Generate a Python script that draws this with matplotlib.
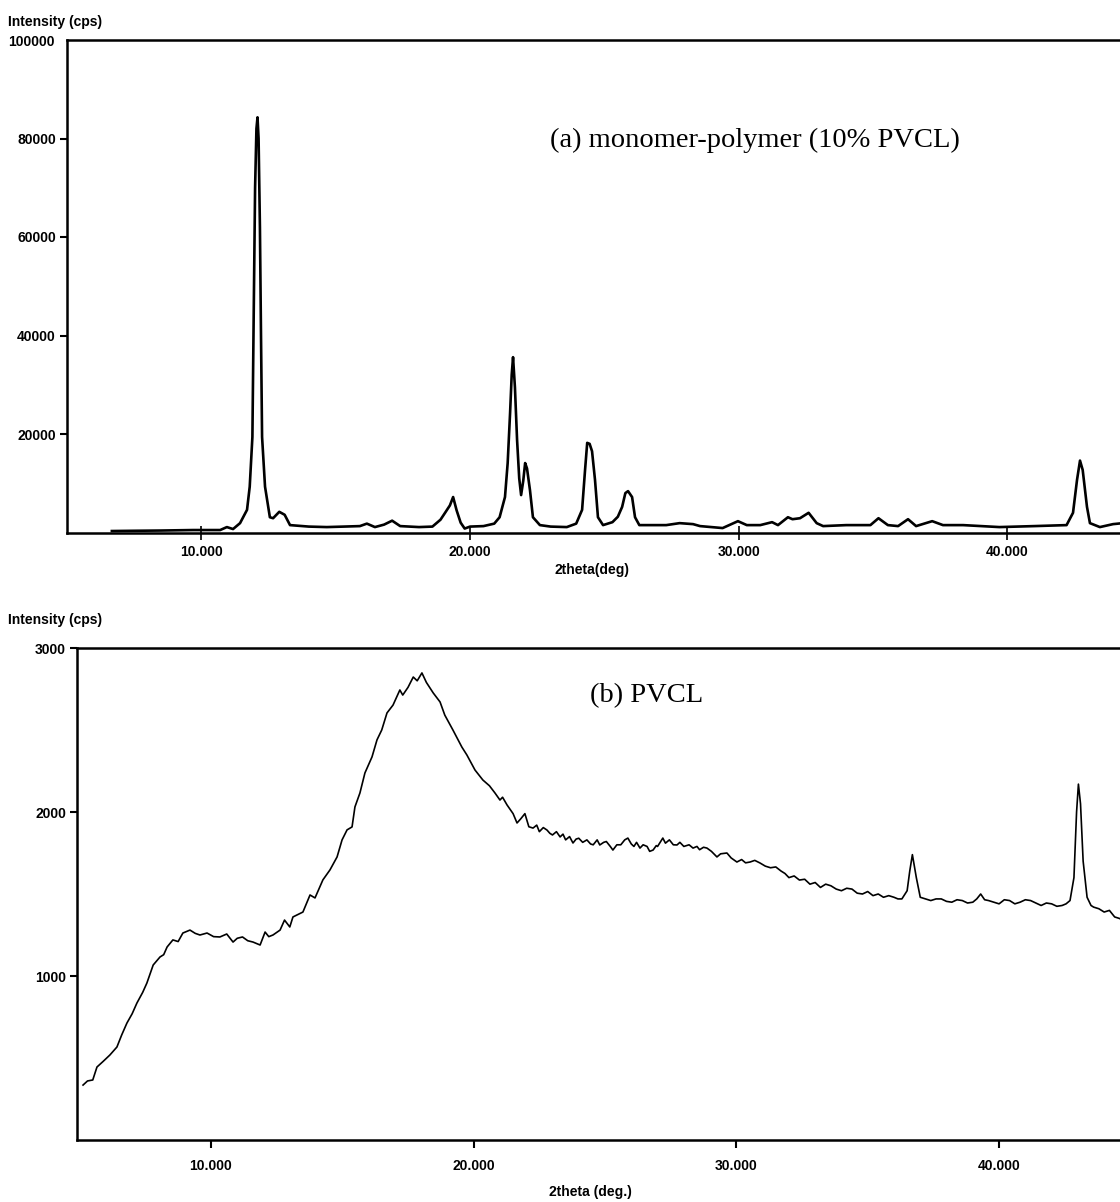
import matplotlib
matplotlib.use("Agg")
import matplotlib.pyplot as plt

# ---- (a) monomer-polymer (10% PVCL) ----
top_theta = [6.67, 7.5, 8.5, 9.7, 10.7, 10.95, 11.18, 11.44, 11.7, 11.8, 11.9, 11.95, 12.0, 12.05,
             12.09, 12.13, 12.18, 12.22, 12.26, 12.37, 12.55, 12.67, 12.9, 13.1, 13.3, 14.0, 14.67,
             15.3, 15.9, 16.16, 16.46, 16.8, 17.1, 17.4, 18.1, 18.6, 18.9, 19.07, 19.25, 19.37, 19.5,
             19.65, 19.8, 20.0, 20.5, 20.9, 21.1, 21.3, 21.4, 21.49, 21.55, 21.6, 21.67, 21.75, 21.83,
             21.9, 21.98, 22.05, 22.12, 22.23, 22.34, 22.6, 23.0, 23.6, 23.95, 24.17, 24.28, 24.36,
             24.45, 24.54, 24.65, 24.76, 24.95, 25.3, 25.5, 25.66, 25.78, 25.88, 26.03, 26.14, 26.3,
             27.3, 27.8, 28.3, 28.56, 29.4, 29.97, 30.3, 30.8, 31.24, 31.46, 31.83, 32.0, 32.28, 32.6,
             32.9, 33.14, 34.0, 34.9, 35.2, 35.55, 35.93, 36.3, 36.6, 37.2, 37.6, 38.35, 39.7, 41.0,
             42.2, 42.44, 42.59, 42.7, 42.8, 42.96, 43.07, 43.44, 43.93, 44.3]
top_counts = [300, 350, 400, 500, 500, 1100, 700, 1900, 4600, 9300, 19400, 45000, 70000, 82000,
              84300, 80000, 62000, 40000, 19400, 9300, 3100, 2900, 4200, 3600, 1500, 1200, 1100,
              1200, 1300, 1800, 1100, 1600, 2400, 1300, 1100, 1200, 2600, 4000, 5500, 7200, 4500,
              2000, 800, 1200, 1300, 1800, 3100, 7200, 14100, 24300, 32000, 35600, 29500, 18800, 11000,
              7600, 10500, 14100, 13000, 8600, 3100, 1500, 1200, 1100, 1800, 4600, 12700, 18200,
              18000, 16500, 10700, 3100, 1500, 2100, 3200, 5200, 8000, 8400, 7200, 3100, 1500,
              1500, 1900, 1700, 1300, 900, 2300, 1500, 1500, 2100, 1500, 3100, 2700, 2900, 4000,
              1900, 1300, 1500, 1500, 2900, 1500, 1300, 2700, 1300, 2300, 1500, 1500, 1100, 1300,
              1500, 4000, 10700, 14600, 12700, 5200, 1900, 1100, 1700, 1900]

# ---- (b) PVCL ----
bot_theta = [5.13, 5.3, 5.5, 5.66, 5.9, 6.15, 6.42, 6.6, 6.8, 7.0, 7.18, 7.4, 7.56, 7.8, 8.06, 8.2,
             8.33, 8.55, 8.75, 8.93, 9.2, 9.4, 9.58, 9.85, 10.1, 10.34, 10.6, 10.84, 11.0, 11.2, 11.4,
             11.6, 11.87, 12.06, 12.2, 12.36, 12.63, 12.8, 13.0, 13.12, 13.5, 13.77, 13.96, 14.26,
             14.53, 14.8, 14.99, 15.18, 15.37, 15.48, 15.67, 15.86, 16.13, 16.32, 16.5, 16.7, 16.93,
             17.19, 17.3, 17.5, 17.7, 17.85, 18.03, 18.2, 18.46, 18.72, 18.9, 19.21, 19.55, 19.74,
             20.05, 20.35, 20.6, 20.81, 21.0, 21.1, 21.27, 21.5, 21.65, 21.8, 21.95, 22.1, 22.26, 22.4,
             22.5, 22.65, 22.79, 22.9, 23.0, 23.15, 23.29, 23.4, 23.5, 23.65, 23.78, 23.9, 24.0, 24.15,
             24.31, 24.45, 24.55, 24.7, 24.8, 24.95, 25.05, 25.2, 25.3, 25.45, 25.6, 25.75, 25.87,
             26.0, 26.1, 26.2, 26.33, 26.45, 26.6, 26.7, 26.83, 26.95, 27.0, 27.2, 27.3, 27.45,
             27.6, 27.74, 27.85, 28.0, 28.2, 28.35, 28.5, 28.6, 28.75, 28.88, 29.05, 29.26, 29.4,
             29.64, 29.8, 30.02, 30.2, 30.35, 30.52, 30.7, 30.9, 31.1, 31.3, 31.5, 31.7, 31.85, 32.0,
             32.2, 32.4, 32.6, 32.8, 33.0, 33.2, 33.4, 33.6, 33.8, 34.0, 34.2, 34.4, 34.6, 34.8,
             35.0, 35.2, 35.4, 35.6, 35.8, 36.0, 36.15, 36.3, 36.5, 36.6, 36.7, 36.85, 37.0, 37.2,
             37.4, 37.6, 37.8, 38.0, 38.2, 38.4, 38.6, 38.8, 39.0, 39.15, 39.3, 39.45, 39.6, 39.8,
             40.0, 40.2, 40.4, 40.6, 40.8, 41.0, 41.2, 41.4, 41.6, 41.8, 42.0, 42.2, 42.4, 42.55,
             42.7, 42.85, 42.95, 43.02, 43.1, 43.2, 43.35, 43.5, 43.6, 43.8, 44.0, 44.2, 44.4, 44.6,
             44.8]
bot_counts = [335, 360, 366, 445, 480, 518, 567, 640, 713, 770, 835, 900, 957, 1067, 1116, 1130,
              1177, 1220, 1210, 1262, 1280, 1260, 1250, 1262, 1240, 1238, 1256, 1207, 1230, 1238, 1215,
              1207, 1189, 1268, 1240, 1250, 1280, 1341, 1299, 1360, 1390, 1494, 1476, 1586,
              1647, 1726, 1830, 1891, 1909, 2031, 2116, 2238, 2336, 2440, 2500, 2604, 2652,
              2744, 2713, 2760, 2823, 2800, 2848, 2790, 2726, 2671, 2591, 2500, 2396, 2348,
              2256, 2195, 2160, 2116, 2073, 2090, 2043, 1990, 1933, 1960, 1990, 1910, 1902, 1920,
              1880, 1905, 1890, 1870, 1860, 1880, 1848, 1865, 1830, 1850, 1811, 1835, 1840, 1815,
              1830, 1805, 1800, 1830, 1799, 1815, 1820, 1790, 1768, 1800, 1800, 1830, 1841,
              1805, 1790, 1815, 1780, 1800, 1790, 1760, 1768, 1795, 1790, 1841, 1810, 1830,
              1800, 1799, 1815, 1790, 1800, 1780, 1790, 1770, 1785, 1780, 1760, 1726, 1745,
              1750, 1720, 1695, 1710, 1690, 1695, 1705, 1689, 1670, 1660, 1665, 1640, 1625, 1600,
              1610, 1585, 1590, 1560, 1570, 1540, 1560, 1550, 1530, 1520, 1535, 1530, 1505, 1500,
              1515, 1490, 1500, 1480, 1490, 1480, 1470, 1470, 1520, 1640, 1740, 1600, 1480, 1470,
              1460, 1470, 1470, 1455, 1450, 1465, 1460, 1445, 1450, 1470, 1500, 1465, 1460, 1450,
              1440, 1465, 1460, 1440, 1450, 1465, 1460, 1445, 1430, 1445, 1440, 1425, 1430, 1440,
              1460, 1600, 2000, 2170, 2050, 1700, 1480, 1430, 1420, 1410, 1390, 1400, 1360, 1350,
              1320]

ytick_top = [20000, 40000, 60000, 80000]
xtick_vals = [10, 20, 30, 40]
xtick_labels = ["10.000", "20.000", "30.000", "40.000"]

W, H = 1120, 1202
fig = plt.figure(figsize=(W / 100, H / 100), dpi=100)

sans = ["Liberation Sans", "DejaVu Sans"]
serif = ["Liberation Serif", "DejaVu Serif"]
tickfont = dict(family=sans, weight="bold", size=10)

# top axes
ax1 = fig.add_axes([67 / W, (H - 532.5) / H, (40 * 26.87) / W, 492.5 / H])
ax1.plot(top_theta, top_counts, color="black", lw=1.9, solid_joinstyle="round")
ax1.set_xlim(5, 45)
ax1.set_ylim(0, 100000)
ax1.set_yticks(ytick_top)
ax1.set_yticklabels([str(v) for v in ytick_top], **tickfont)
ax1.set_xticks(xtick_vals)
ax1.set_xticklabels(xtick_labels, **tickfont)
ax1.tick_params(axis="y", direction="out", length=5, width=1.5, pad=3)
ax1.tick_params(axis="x", direction="inout", length=10, width=1.2, pad=4)
for s in ax1.spines.values():
    s.set_linewidth(1.8)
fig.text(8 / W, (H - 22) / H, "Intensity (cps)", ha="left", va="center", **tickfont)
fig.text(8 / W, (H - 42) / H, "100000", ha="left", va="center", **tickfont)
fig.text(592 / W, (H - 570) / H, "2theta(deg)", ha="center", va="center", **tickfont)
ax1.text(30.6, 79700, "(a) monomer-polymer (10% PVCL)", ha="center", va="center",
         family=serif, size=20.5)

# bottom axes
px_per_deg = 26.27
ax2 = fig.add_axes([77 / W, (H - 1140) / H, (40.1 * px_per_deg) / W, 492 / H])
ax2.plot(bot_theta, bot_counts, color="black", lw=1.2, solid_joinstyle="round")
ax2.set_xlim(4.9, 45)
ax2.set_ylim(0, 3000)
ax2.set_yticks([1000, 2000, 3000])
ax2.set_yticklabels(["1000", "2000", "3000"], **tickfont)
ax2.set_xticks(xtick_vals)
ax2.set_xticklabels(xtick_labels, **tickfont)
ax2.tick_params(axis="y", direction="out", length=5, width=1.5, pad=3)
ax2.tick_params(axis="x", direction="out", length=6, width=1.5, pad=8)
for s in ax2.spines.values():
    s.set_linewidth(1.8)
fig.text(8 / W, (H - 620) / H, "Intensity (cps)", ha="left", va="center", **tickfont)
fig.text(590 / W, (H - 1192) / H, "2theta (deg.)", ha="center", va="center", **tickfont)
ax2.text(26.6, 2710, "(b) PVCL", ha="center", va="center", family=serif, size=20.5)

fig.savefig("out.png", dpi=100)
